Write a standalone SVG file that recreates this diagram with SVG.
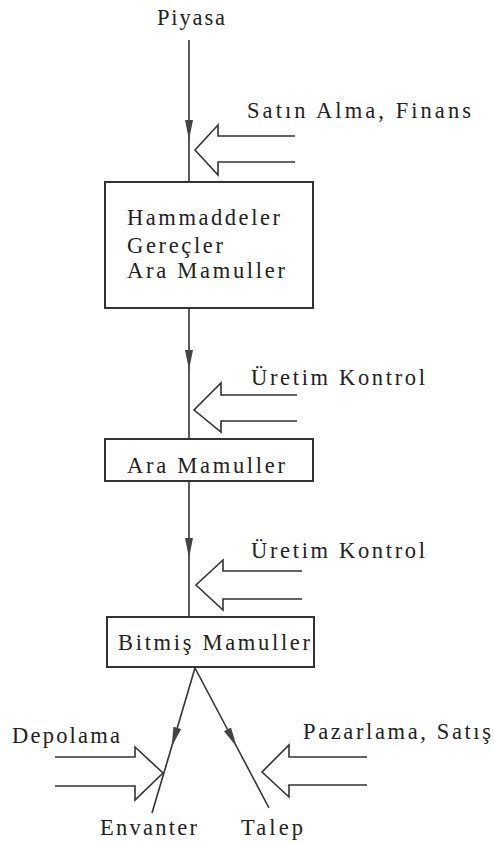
<svg xmlns="http://www.w3.org/2000/svg" width="494" height="843" viewBox="0 0 494 843">
<style>
text{font-family:"Liberation Serif","Times New Roman",serif;font-size:22.5px;fill:#222}
.box{fill:#fff;stroke:#333;stroke-width:2}
.ln{fill:none;stroke:#333;stroke-width:1.6}
.blk{fill:none;stroke:#333;stroke-width:1.6;stroke-linejoin:miter}
</style>
<defs>
<marker id="ah" viewBox="0 0 20 8" refX="20" refY="4" markerWidth="20" markerHeight="8" markerUnits="userSpaceOnUse" orient="auto">
<path d="M0,0 L20,4 L0,8 Z" fill="#444"/>
</marker>
</defs>
<g id="connectors">
<path class="ln" d="M189,40 L189,140 L189,182" marker-mid="url(#ah)"/>
<path class="ln" d="M189,308 L189,370 L189,439" marker-mid="url(#ah)"/>
<path class="ln" d="M189,481 L189,558 L189,617" marker-mid="url(#ah)"/>
<path class="ln" d="M195,668 L171.6,747 L152,813" marker-mid="url(#ah)"/>
<path class="ln" d="M195,668 L236.8,747 L269,808" marker-mid="url(#ah)"/>
<path class="blk" d="M295,136 L218,136 L218,125 L195,150 L218,175 L218,162 L295,162"/>
<path class="blk" d="M297,395 L221,395 L221,383 L194,410 L221,432 L221,421 L297,421"/>
<path class="blk" d="M302,571 L223,571 L223,560 L196,585 L223,610 L223,599 L302,599"/>
<path class="blk" d="M55,757 L135,757 L135,747 L163,773 L135,800 L135,786 L55,786"/>
<path class="blk" d="M367,757 L289,757 L289,745 L262,772 L289,797 L289,785 L367,785"/>
</g>
<g id="piyasa"><text x="157" y="25" textLength="68" lengthAdjust="spacing">Piyasa</text></g>
<g id="satin-alma"><text x="247" y="118" textLength="224" lengthAdjust="spacing">Satın Alma, Finans</text></g>
<g id="hammaddeler">
<rect class="box" x="105" y="182" width="208" height="126"/>
<text x="127" y="225" textLength="153" lengthAdjust="spacing">Hammaddeler</text>
<text x="127" y="253" textLength="96" lengthAdjust="spacing">Gereçler</text>
<text x="127" y="278" textLength="158" lengthAdjust="spacing">Ara Mamuller</text>
</g>
<g id="uretim-kontrol-1"><text x="251" y="385" textLength="174" lengthAdjust="spacing">Üretim Kontrol</text></g>
<g id="ara-mamuller">
<rect class="box" x="105" y="439" width="208" height="42"/>
<text x="127" y="473" textLength="158" lengthAdjust="spacing">Ara Mamuller</text>
</g>
<g id="uretim-kontrol-2"><text x="251" y="558" textLength="174" lengthAdjust="spacing">Üretim Kontrol</text></g>
<g id="bitmis-mamuller">
<rect class="box" x="107" y="617" width="207" height="50"/>
<text x="118" y="650" textLength="192" lengthAdjust="spacing">Bitmiş Mamuller</text>
</g>
<g id="depolama"><text x="12" y="743" textLength="108" lengthAdjust="spacing">Depolama</text></g>
<g id="pazarlama"><text x="303" y="739" textLength="188" lengthAdjust="spacing">Pazarlama, Satış</text></g>
<g id="envanter"><text x="100" y="835" textLength="97" lengthAdjust="spacing">Envanter</text></g>
<g id="talep"><text x="241" y="835" textLength="62" lengthAdjust="spacing">Talep</text></g>
</svg>
